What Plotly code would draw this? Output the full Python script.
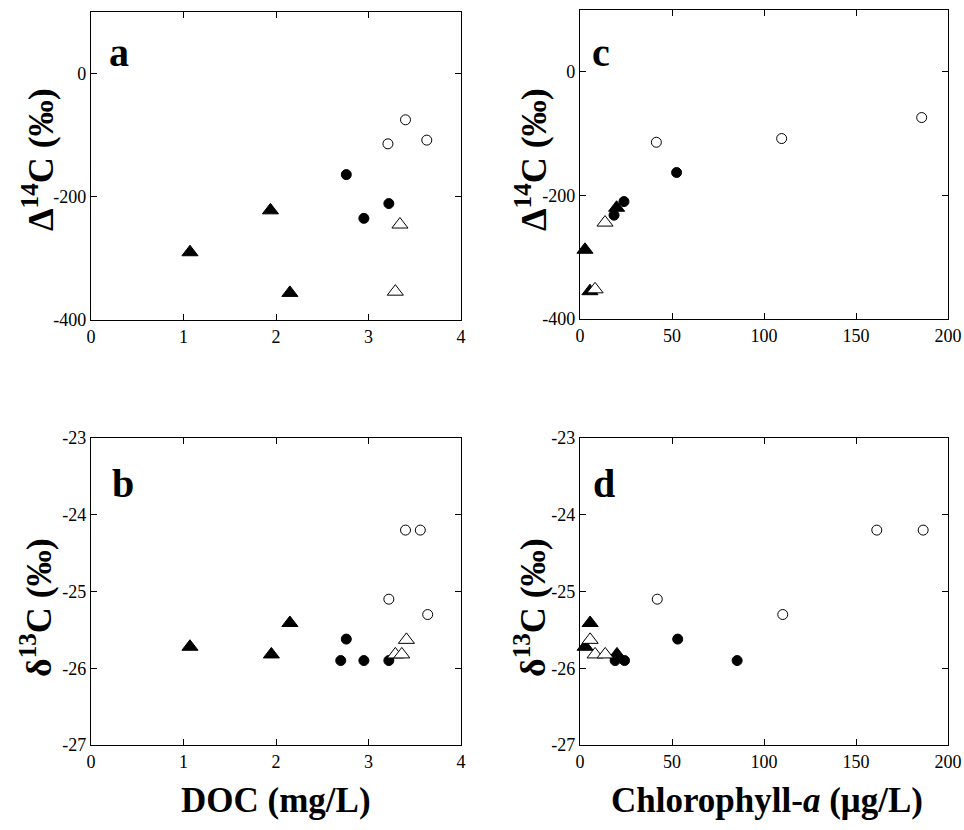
import plotly.graph_objects as go

# ---------------- data ----------------
# Panel a: Delta14C vs DOC
a_filled_tri_x = [1.07, 1.94, 2.15]
a_filled_tri_y = [-290, -222, -356]
a_filled_circ_x = [2.76, 2.95, 3.22]
a_filled_circ_y = [-164, -235, -211]
a_open_circ_x = [3.21, 3.40, 3.63]
a_open_circ_y = [-114, -75, -108]
a_open_tri_x = [3.34, 3.29]
a_open_tri_y = [-245, -354]

# Panel b: delta13C vs DOC
b_filled_tri_x = [1.07, 1.95, 2.15]
b_filled_tri_y = [-25.72, -25.82, -25.41]
b_filled_circ_x = [2.76, 2.70, 2.95, 3.22]
b_filled_circ_y = [-25.62, -25.90, -25.90, -25.90]
b_open_circ_x = [3.40, 3.56, 3.22, 3.64]
b_open_circ_y = [-24.20, -24.20, -25.10, -25.30]
b_open_tri_x = [3.41, 3.29, 3.36]
b_open_tri_y = [-25.63, -25.82, -25.82]

# Panel c: Delta14C vs Chlorophyll-a
c_filled_tri_x = [2.7, 5.4, 19.9]
c_filled_tri_y = [-288, -355, -220]
c_filled_circ_x = [52.5, 23.9, 18.5]
c_filled_circ_y = [-163, -210, -232]
c_open_circ_x = [41.5, 109.6, 185.7]
c_open_circ_y = [-114, -108, -74]
c_open_tri_x = [13.6, 8.2]
c_open_tri_y = [-244, -352]

# Panel d: delta13C vs Chlorophyll-a
d_filled_tri_x = [5.5, 2.8, 20.1]
d_filled_tri_y = [-25.41, -25.72, -25.82]
d_filled_circ_x = [53.1, 85.4, 19.1, 24.2]
d_filled_circ_y = [-25.62, -25.90, -25.90, -25.90]
d_open_circ_x = [161.3, 186.5, 42.0, 110.2]
d_open_circ_y = [-24.20, -24.20, -25.10, -25.30]
d_open_tri_x = [5.5, 8.2, 13.7]
d_open_tri_y = [-25.63, -25.82, -25.82]

doc_ticks = [0, 1, 2, 3, 4]
doc_ticklabels = ["0", "1", "2", "3", "4"]
chl_ticks = [0, 50, 100, 150, 200]
chl_ticklabels = ["0", "50", "100", "150", "200"]
d14_ticks = [-400, -200, 0]
d14_ticklabels = ["-400", "-200", "0"]
d13_ticks = [-27, -26, -25, -24, -23]
d13_ticklabels = ["-27", "-26", "-25", "-24", "-23"]

# ---------------- figure ----------------
W, H = 964, 830
fig = go.Figure()

FONT = "Liberation Serif, Times New Roman, serif"


def px(v):
    return v / W


def py(v):
    return 1 - v / H


panels = {
    "a": dict(xa="x", ya="y", dx=[px(91), px(461)], dy=[py(320), py(12)]),
    "b": dict(xa="x2", ya="y2", dx=[px(91), px(461)], dy=[py(745), py(438)]),
    "c": dict(xa="x3", ya="y3", dx=[px(580), px(948)], dy=[py(319), py(10)]),
    "d": dict(xa="x4", ya="y4", dx=[px(580), px(948)], dy=[py(745), py(438)]),
}

data = {
    "a": [(a_filled_tri_x, a_filled_tri_y, "ft"), (a_filled_circ_x, a_filled_circ_y, "fc"),
          (a_open_circ_x, a_open_circ_y, "oc"), (a_open_tri_x, a_open_tri_y, "ot")],
    "b": [(b_filled_tri_x, b_filled_tri_y, "ft"), (b_filled_circ_x, b_filled_circ_y, "fc"),
          (b_open_circ_x, b_open_circ_y, "oc"), (b_open_tri_x, b_open_tri_y, "ot")],
    "c": [(c_filled_tri_x, c_filled_tri_y, "ft"), (c_filled_circ_x, c_filled_circ_y, "fc"),
          (c_open_circ_x, c_open_circ_y, "oc"), (c_open_tri_x, c_open_tri_y, "ot")],
    "d": [(d_filled_tri_x, d_filled_tri_y, "ft"), (d_filled_circ_x, d_filled_circ_y, "fc"),
          (d_open_circ_x, d_open_circ_y, "oc"), (d_open_tri_x, d_open_tri_y, "ot")],
}

styles = {
    "ft": dict(symbol="triangle-up", size=14, color="black", line=dict(color="black", width=1)),
    "fc": dict(symbol="circle", size=10, color="black", line=dict(color="black", width=1)),
    "oc": dict(symbol="circle", size=10, color="white", line=dict(color="black", width=1)),
    "ot": dict(symbol="triangle-up", size=14, color="white", line=dict(color="black", width=1)),
}

for key, p in panels.items():
    for xs, ys, st in data[key]:
        fig.add_trace(go.Scatter(x=xs, y=ys, mode="markers", marker=styles[st],
                                 xaxis=p["xa"], yaxis=p["ya"], showlegend=False,
                                 cliponaxis=False))

axis_common = dict(showline=True, linecolor="black", linewidth=1.2, mirror="ticks",
                   ticks="inside", ticklen=6, tickcolor="black", tickwidth=1.2,
                   showgrid=False, zeroline=False, ticklabeloverflow="allow",
                   tickfont=dict(family=FONT, size=18, color="black"))

layout = dict(width=W, height=H, margin=dict(l=0, r=0, t=0, b=0, autoexpand=False),
              paper_bgcolor="white", plot_bgcolor="white", showlegend=False)

for key, p in panels.items():
    xn = "xaxis" + p["xa"][1:]
    yn = "yaxis" + p["ya"][1:]
    if key in ("a", "b"):
        xr, xt, xl = [0, 4], doc_ticks, doc_ticklabels
    else:
        xr, xt, xl = [0, 200], chl_ticks, chl_ticklabels
    if key in ("a", "c"):
        yr, yt, yl = [-400, 100], d14_ticks, d14_ticklabels
    else:
        yr, yt, yl = [-27, -23], d13_ticks, d13_ticklabels
    layout[xn] = dict(axis_common, domain=p["dx"], range=xr, tickvals=xt, ticktext=xl,
                      anchor=p["ya"], automargin=False)
    layout[yn] = dict(axis_common, domain=p["dy"], range=yr, tickvals=yt, ticktext=yl,
                      anchor=p["xa"], automargin=False)

fig.update_layout(**layout)

# panel letters
letters = [("a", 119, 53), ("c", 601, 53), ("b", 123, 483), ("d", 604, 483)]
for t, x, y in letters:
    fig.add_annotation(text="<b>%s</b>" % t, x=px(x), y=py(y), xref="paper", yref="paper",
                       showarrow=False, font=dict(family=FONT, size=40, color="black"),
                       xanchor="center", yanchor="middle")

# axis titles
ytitles = [("<b>Δ<sup>14</sup>C (‰)</b>", 39, 160), ("<b>δ<sup>13</sup>C (‰)</b>", 36, 608),
           ("<b>Δ<sup>14</sup>C (‰)</b>", 532, 160), ("<b>δ<sup>13</sup>C (‰)</b>", 530, 608)]
for t, x, y in ytitles:
    fig.add_annotation(text=t, x=px(x), y=py(y), xref="paper", yref="paper", textangle=-90,
                       showarrow=False, font=dict(family=FONT, size=36, color="black"),
                       xanchor="center", yanchor="middle")

xtitles = [("<b>DOC (mg/L)</b>", 276, 800), ("<b>Chlorophyll-<i>a</i> (μg/L)</b>", 767, 800)]
for t, x, y in xtitles:
    fig.add_annotation(text=t, x=px(x), y=py(y), xref="paper", yref="paper",
                       showarrow=False, font=dict(family=FONT, size=35, color="black"),
                       xanchor="center", yanchor="middle")

# remove the default page margin so the 964x830 figure fills the window exactly
fig.write_html("out.html",
               config={"displayModeBar": False},
               post_script="document.body.style.margin='0';"
                           "document.documentElement.style.overflow='hidden';"
                           "document.body.style.overflow='hidden';")
